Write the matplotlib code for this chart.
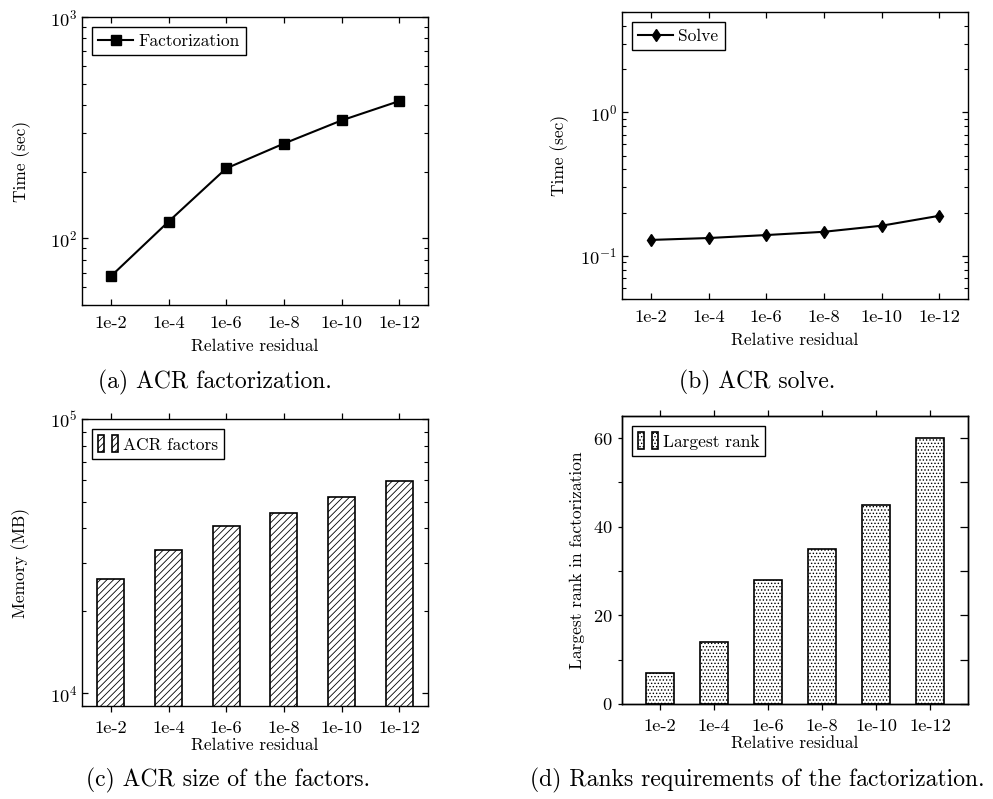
import matplotlib
matplotlib.use("Agg")
import matplotlib.pyplot as plt
from matplotlib.legend_handler import HandlerTuple
from matplotlib.ticker import FixedLocator, NullFormatter

plt.rcParams['font.family'] = ['cmr10', 'DejaVu Serif']
plt.rcParams['mathtext.fontset'] = 'cm'
plt.rcParams['axes.formatter.use_mathtext'] = True
plt.rcParams['axes.unicode_minus'] = False
plt.rcParams['hatch.linewidth'] = 0.6

residuals = ['1e-2', '1e-4', '1e-6', '1e-8', '1e-10', '1e-12']
fact_time = [67.4, 119, 207, 268, 341, 417]
solve_time = [0.129, 0.133, 0.1395, 0.147, 0.162, 0.190]
factor_mem = [26200, 33200, 40700, 45400, 51800, 59400]
largest_rank = [7, 14, 28, 35, 45, 60]

captions = ['(a) ACR factorization.', '(b) ACR solve.',
            '(c) ACR size of the factors.',
            '(d) Ranks requirements of the factorization.']

W, H = 993, 799
fig = plt.figure(figsize=(W / 100, H / 100), dpi=100)


def box(l, t, r, b):
    return [l / W, 1 - b / H, (r - l) / W, (b - t) / H]


def frame(ax):
    for sp in ax.spines.values():
        sp.set_linewidth(1.0)
    ax.tick_params(which='major', length=4.5, width=0.9, labelsize=13.3)
    ax.tick_params(which='minor', length=3, width=0.8)


def legend(ax, handles, labels, **kw):
    leg = ax.legend(handles, labels, loc='upper left', fontsize=12.5,
                    fancybox=False, edgecolor='black', framealpha=1,
                    borderaxespad=0.6, borderpad=0.35, handletextpad=0.3, **kw)
    leg.get_frame().set_linewidth(1.0)
    return leg


x = list(range(len(residuals)))

# (a) factorization time
ax = fig.add_axes(box(82, 17, 428, 305))
ln, = ax.plot(x, fact_time, color='black', lw=1.5, marker='s', ms=7)
ax.set_yscale('log')
ax.set_ylim(50, 1000)
ax.set_xlim(-0.5, 5.5)
ax.set_xticks(x, residuals)
frame(ax)
ax.tick_params(which='both', direction='in', top=True, right=True)
ax.tick_params(axis='x', pad=8)
ax.set_xlabel('Relative residual', fontsize=12.5, labelpad=5)
ax.set_ylabel('Time (sec)', fontsize=12.5, labelpad=14)
legend(ax, [ln], ['Factorization'], handlelength=2.0)

# (b) solve time
ax = fig.add_axes(box(622, 12, 968, 299))
ln, = ax.plot(x, solve_time, color='black', lw=1.5, marker='d', ms=6.5)
ax.set_yscale('log')
ax.set_ylim(0.05, 5)
ax.set_xlim(-0.5, 5.5)
ax.set_xticks(x, residuals)
frame(ax)
ax.tick_params(which='both', direction='in', top=True, right=True)
ax.tick_params(axis='x', pad=8)
ax.set_xlabel('Relative residual', fontsize=12.5, labelpad=5)
ax.set_ylabel('Time (sec)', fontsize=12.5, labelpad=8)
legend(ax, [ln], ['Solve'], handlelength=2.0)

# (c) memory of the factors
ax = fig.add_axes(box(82, 419, 428, 706))
bars = ax.bar(x, factor_mem, width=0.47, color='white', edgecolor='black',
              linewidth=1.2, hatch='/////')
ax.set_yscale('log')
ax.set_ylim(9000, 100000)
ax.set_xlim(-0.5, 5.5)
ax.set_xticks(x, residuals)
frame(ax)
ax.tick_params(axis='y', which='both', direction='in', right=True)
ax.tick_params(axis='x', direction='out', top=True, pad=6)
ax.set_xlabel('Relative residual', fontsize=12.5, labelpad=1)
ax.set_ylabel('Memory (MB)', fontsize=12.5, labelpad=14)
legend(ax, [(bars[0], bars[0])], ['ACR factors'],
       handler_map={tuple: HandlerTuple(ndivide=None, pad=0.5)},
       handlelength=1.1, handleheight=1.1)

# (d) largest rank
ax = fig.add_axes(box(622, 416, 968, 704))
bars = ax.bar(x, largest_rank, width=0.51, color='white', edgecolor='black',
              linewidth=1.2, hatch='.....')
ax.set_ylim(0, 65)
ax.set_xlim(-0.7, 5.7)
ax.set_xticks(x, residuals)
ax.set_yticks([0, 20, 40, 60])
ax.yaxis.set_minor_locator(FixedLocator([10, 30, 50]))
ax.yaxis.set_minor_formatter(NullFormatter())
frame(ax)
ax.tick_params(axis='y', which='both', direction='out', length=3, right=False)
ax.tick_params(axis='x', direction='out', top=True, pad=6)
ax.set_xlabel('Relative residual', fontsize=12.5, labelpad=1)
ax.set_ylabel('Largest rank in factorization', fontsize=12.5, labelpad=6)
# inward ticks on the right edge only
ax2 = ax.twinx()
ax2.set_ylim(0, 65)
ax2.set_yticks([0, 10, 20, 30, 40, 50, 60], [])
ax2.tick_params(axis='y', direction='in', length=6, width=0.9)
for sp in ax2.spines.values():
    sp.set_linewidth(1.0)
legend(ax, [(bars[0], bars[0])], ['Largest rank'],
       handler_map={tuple: HandlerTuple(ndivide=None, pad=0.5)},
       handlelength=1.1, handleheight=1.1)

fig.text(215 / W, 1 - 382 / H, captions[0], ha='center', va='center', fontsize=17)
fig.text(757 / W, 1 - 382 / H, captions[1], ha='center', va='center', fontsize=17)
fig.text(228 / W, 1 - 780 / H, captions[2], ha='center', va='center', fontsize=17)
fig.text(757 / W, 1 - 780 / H, captions[3], ha='center', va='center', fontsize=17)

fig.savefig('out.png', dpi=100)
